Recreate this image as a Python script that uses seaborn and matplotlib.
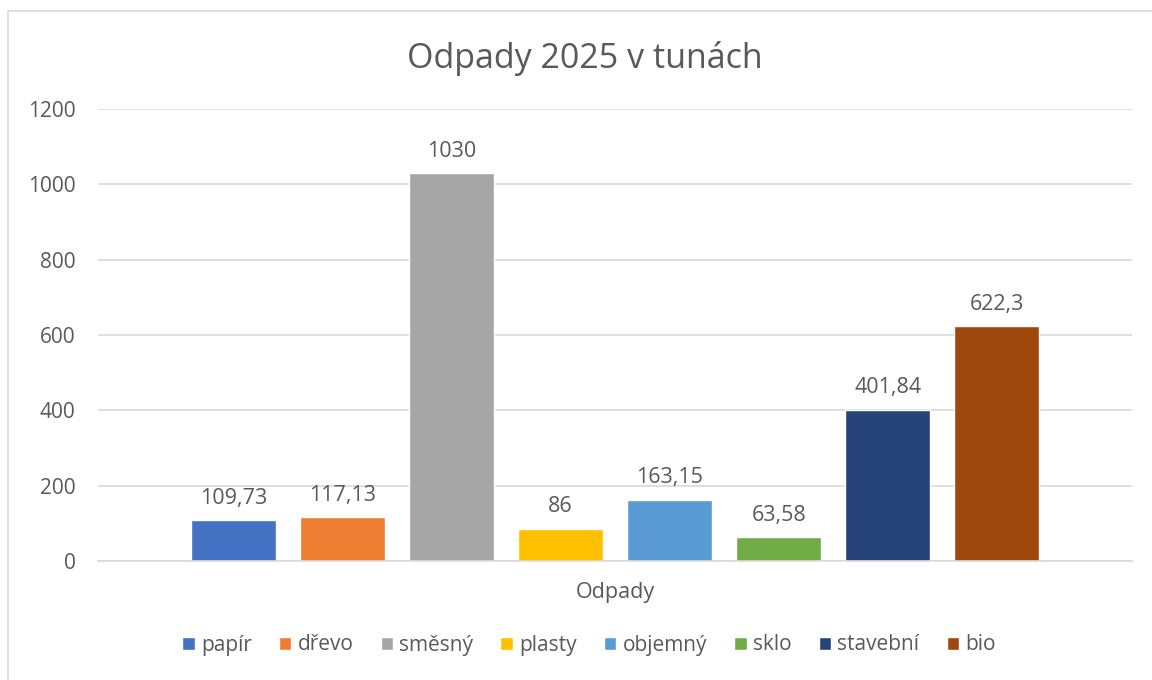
import matplotlib
matplotlib.use("Agg")
import matplotlib.pyplot as plt
import pandas as pd
import seaborn as sns
from matplotlib.patches import Rectangle

# Data
categories = ["papír", "dřevo", "směsný", "plasty", "objemný", "sklo", "stavební", "bio"]
values = [109.73, 117.13, 1030, 86, 163.15, 63.58, 401.84, 622.3]
colors = ["#4472C4", "#ED7D31", "#A5A5A5", "#FFC000", "#5B9BD5", "#70AD47", "#264478", "#9E480E"]
group = "Odpady"
title = "Odpady 2025 v tunách"
y_ticks = [0, 200, 400, 600, 800, 1000, 1200]

df = pd.DataFrame({"skupina": [group] * len(categories), "druh": categories, "tuny": values})

sns.set_theme(style="white")
plt.rcParams["font.family"] = ["Open Sans", "DejaVu Sans"]
text_color = "#595959"
grid_color = "#D9D9D9"

fig = plt.figure(figsize=(11.52, 6.8), dpi=100)
ax = fig.add_axes([0.085, 0.175, 0.898, 0.665])

sns.barplot(
    data=df, x="skupina", y="tuny", hue="druh",
    hue_order=categories, palette=colors,
    width=0.843, gap=0.22, saturation=1, ax=ax, legend=True,
)

# data labels with decimal comma
for cont, v in zip(ax.containers, values):
    ax.bar_label(cont, labels=[f"{v:g}".replace(".", ",")], padding=8,
                 fontsize=15.5, color=text_color)

ax.set_ylim(0, 1200)
ax.set_yticks(y_ticks)
ax.set_yticklabels([str(t) for t in y_ticks])
ax.yaxis.grid(True, color=grid_color, linewidth=1.2)
ax.set_axisbelow(True)
for s in ["top", "right", "left"]:
    ax.spines[s].set_visible(False)
ax.spines["bottom"].set_color(grid_color)
ax.spines["bottom"].set_linewidth(1.2)
ax.tick_params(axis="y", length=0, pad=16, labelsize=15, labelcolor=text_color)
ax.tick_params(axis="x", length=0, pad=15, labelsize=15.5, labelcolor=text_color)
ax.set_xlabel("")
ax.set_ylabel("")

fig.text(0.508, 0.914, title, ha="center", va="center", fontsize=24.5, color=text_color)

ax.legend(loc="center", bbox_to_anchor=(589 / 1152, 1 - 645 / 680),
          bbox_transform=fig.transFigure, ncol=8, frameon=False,
          fontsize=15, labelcolor=text_color, handlelength=0.6, handleheight=0.6,
          handletextpad=0.3, columnspacing=1.3)

# chart border (Excel chart area)
fig.patches.append(Rectangle((8 / 1152, -0.05), 1.1, 1 - 11 / 680 + 0.05,
                             transform=fig.transFigure, fill=False,
                             edgecolor=grid_color, linewidth=1.2))

fig.savefig("out.png", dpi=100)
